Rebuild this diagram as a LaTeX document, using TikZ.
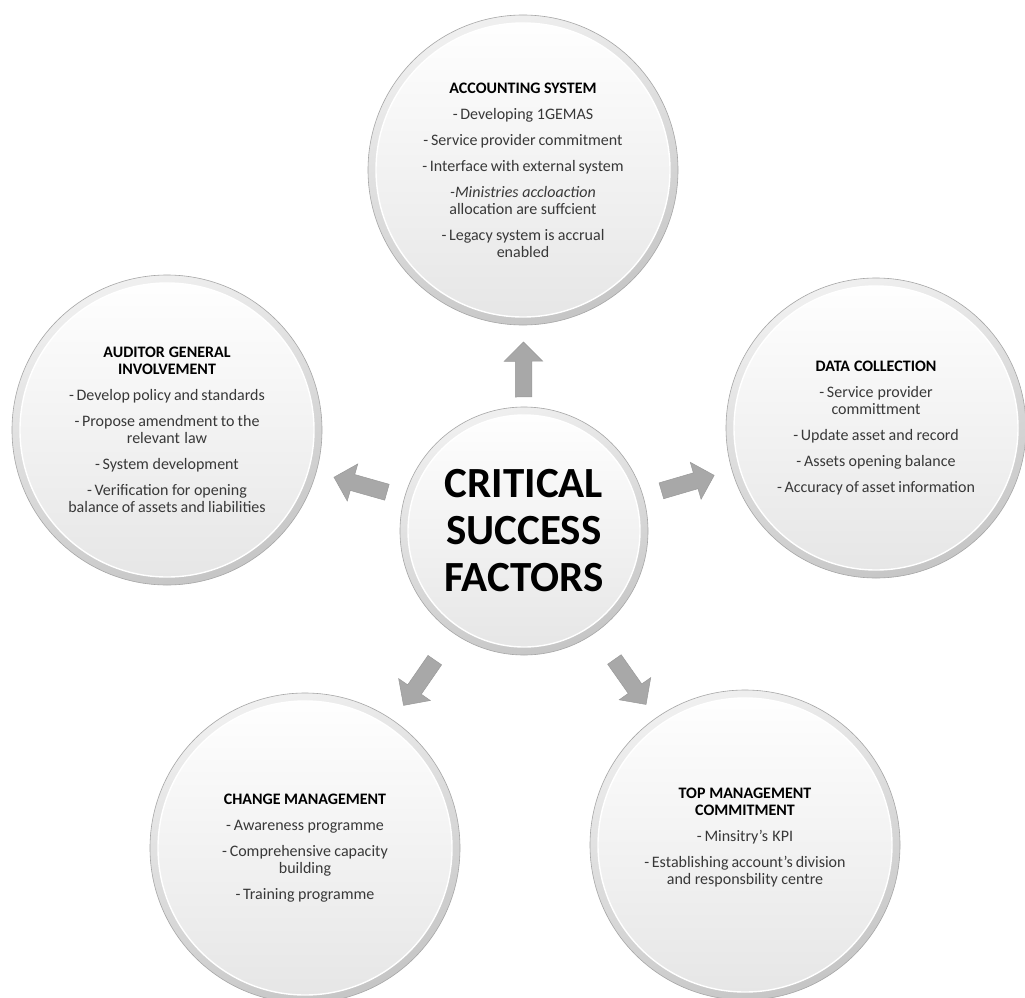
\documentclass[tikz,border=0pt]{standalone}
\usepackage{fontspec}
\setmainfont{Carlito}
\usetikzlibrary{shapes.arrows,calc}
\newcommand{\tsp}{\spaceskip=0.16em plus 0.05em\relax}
\tikzset{
  button/.style={circle, minimum size=#1, inner sep=0pt, draw=gray!70, line width=0.6pt,
    top color=gray!12, bottom color=gray!45, shading angle=20,
    path picture={\shade[top color=white, bottom color=gray!20, draw=white, line width=1.4pt]
      (path picture bounding box.center) circle[radius=#1/2-8];}},
  itemtext/.style={text width=230pt, align=center, text=black!78,
    font=\fontsize{16}{17}\selectfont},
  blockarrow/.style={single arrow, draw=gray!80, fill=gray!68, line width=0.5pt,
    minimum height=55pt, single arrow head extend=11pt,
    inner xsep=0pt, inner ysep=8pt, sloped, allow upside down},
}
\newcommand{\ttl}[1]{\textcolor{black}{\textbf{#1}}}
\begin{document}
\begin{tikzpicture}[x=1pt,y=-1pt]
\useasboundingbox (0,0) rectangle (1025,998);
\fill[white] (0,0) rectangle (1025,998);

\node[button=310, itemtext] (acc) at (523,170) {\tsp\ttl{ACCOUNTING SYSTEM}\\[9pt]
-\,Developing 1GEMAS\\[9pt]
-\,Service provider commitment\\[9pt]
-\,Interface with external system\\[9pt]
\textit{-Ministries accloaction}\\
allocation are suffcient\\[9pt]
-\,Legacy system is accrual\\ enabled};

\node[button=310, itemtext] (aud) at (167,430) {\tsp\ttl{AUDITOR GENERAL}\\ \ttl{INVOLVEMENT}\\[9pt]
-\,Develop policy and standards\\[9pt]
-\,Propose amendment to the\\ relevant law\\[9pt]
-\,System development\\[9pt]
-\,Verification for opening\\ balance of assets and liabilities};

\node[button=300, itemtext] (data) at (876,428) {\tsp\ttl{DATA COLLECTION}\\[9pt]
-\,Service provider\\ committment\\[9pt]
-\,Update asset and record\\[9pt]
-\,Assets opening balance\\[9pt]
-\,Accuracy of asset information};

\node[button=310, itemtext] (chg) at (305,848) {\tsp\ttl{CHANGE MANAGEMENT}\\[9pt]
-\,Awareness programme\\[9pt]
-\,Comprehensive capacity\\ building\\[9pt]
-\,Training programme};

\node[button=310, itemtext] (top) at (745,845) {\tsp\ttl{TOP MANAGEMENT}\\ \ttl{COMMITMENT}\\[9pt]
-\,Minsitry's KPI\\[9pt]
-\,Establishing account's division\\ and responsbility centre\\[0pt]\mbox{}};

\node[button=248, align=center, font=\fontsize{43}{47}\selectfont\bfseries] (csf) at (524,531)
  {CRITICAL\\SUCCESS\\FACTORS};

\path (csf.center) -- node[blockarrow, pos=0.436] (a1) {} (acc.center);
\path (csf.center) -- node[blockarrow, pos=0.447] (a2) {} (aud.center);
\path (csf.center) -- node[blockarrow, pos=0.454] (a3) {} (data.center);
\path (csf.center) -- node[blockarrow, pos=0.468] (a4) {} (chg.center);
\path (csf.center) -- node[blockarrow, pos=0.47] (a5) {} (top.center);
\end{tikzpicture}
\end{document}
